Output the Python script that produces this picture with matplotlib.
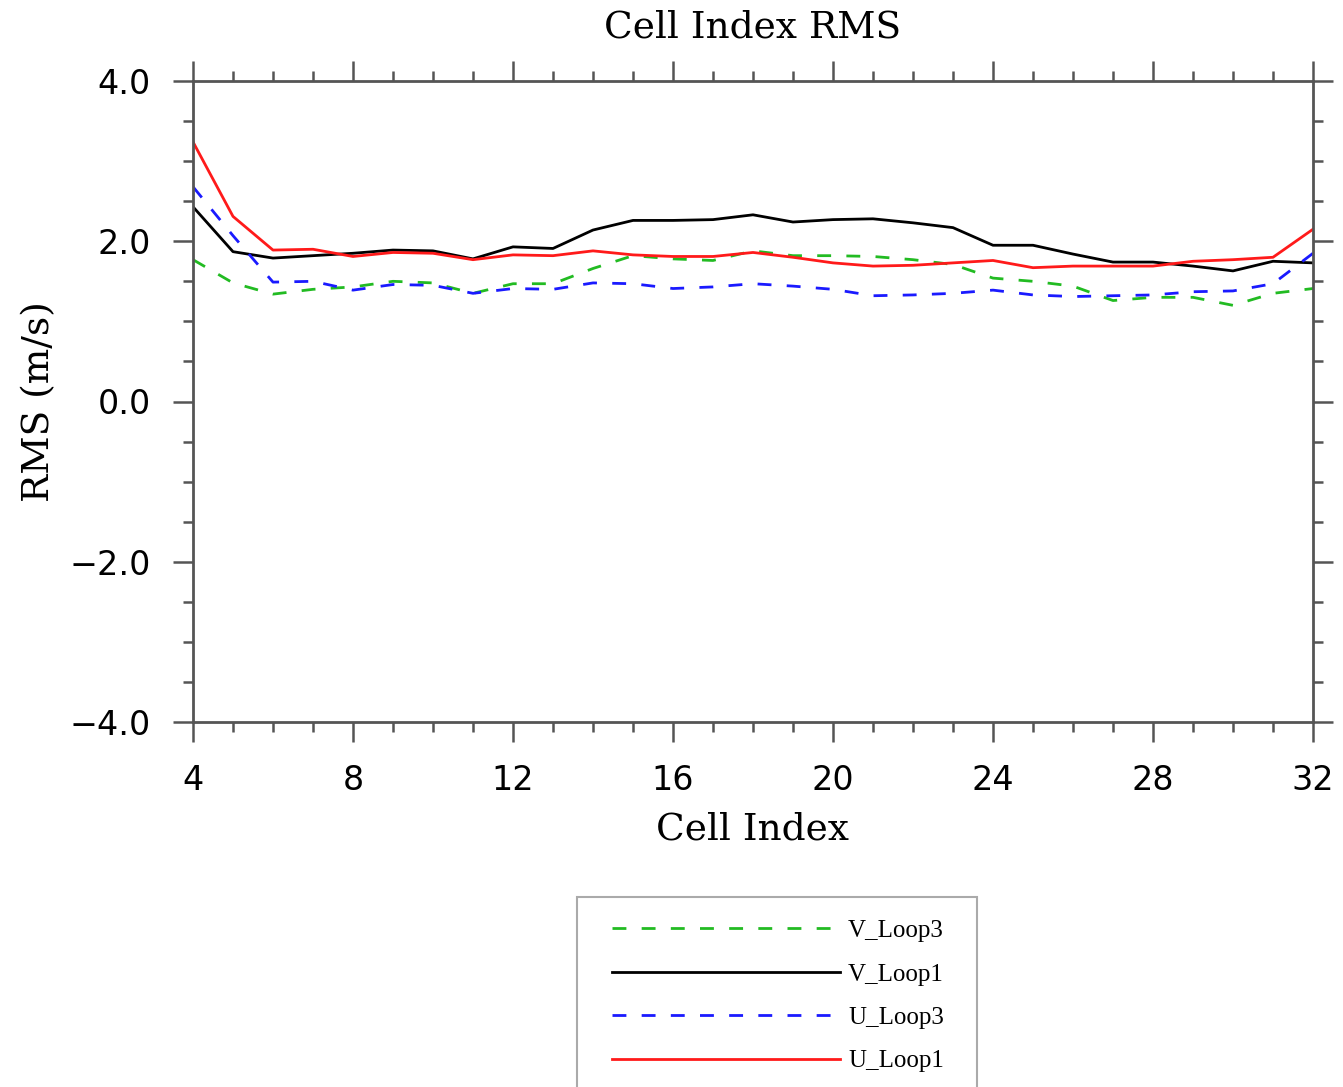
import matplotlib
matplotlib.use("Agg")
import matplotlib.pyplot as plt
from matplotlib.ticker import MultipleLocator, FuncFormatter
from matplotlib.patches import Rectangle

plt.rcParams['lines.scale_dashes'] = False

cell_index = list(range(4, 33))
v_loop3 = [1.77, 1.48, 1.34, 1.40, 1.43, 1.50, 1.48, 1.35, 1.47, 1.47, 1.66, 1.82, 1.78, 1.76, 1.88,
           1.82, 1.82, 1.81, 1.77, 1.71, 1.54, 1.50, 1.44, 1.26, 1.30, 1.30, 1.20, 1.35, 1.41]
v_loop1 = [2.43, 1.87, 1.79, 1.82, 1.85, 1.89, 1.88, 1.78, 1.93, 1.91, 2.14, 2.26, 2.26, 2.27, 2.33,
           2.24, 2.27, 2.28, 2.23, 2.17, 1.95, 1.95, 1.84, 1.74, 1.74, 1.69, 1.63, 1.75, 1.73]
u_loop3 = [2.68, 2.07, 1.49, 1.50, 1.39, 1.46, 1.45, 1.35, 1.41, 1.40, 1.48, 1.47, 1.41, 1.43, 1.47,
           1.44, 1.40, 1.32, 1.33, 1.35, 1.39, 1.33, 1.31, 1.32, 1.33, 1.37, 1.38, 1.47, 1.85]
u_loop1 = [3.24, 2.31, 1.89, 1.90, 1.81, 1.86, 1.85, 1.77, 1.83, 1.82, 1.88, 1.83, 1.81, 1.81, 1.86,
           1.80, 1.73, 1.69, 1.70, 1.73, 1.76, 1.67, 1.69, 1.69, 1.69, 1.75, 1.77, 1.80, 2.15]

series_labels = ["V_Loop3", "V_Loop1", "U_Loop3", "U_Loop1"]
x_ticks = [4, 8, 12, 16, 20, 24, 28, 32]
y_ticks = [-4.0, -2.0, 0.0, 2.0, 4.0]

W, H = 1343, 1087
fig = plt.figure(figsize=(W / 100, H / 100), dpi=100)
ax = fig.add_axes([193 / W, 1 - 722 / H, (1313 - 193) / W, (722 - 81) / H])

lw = 2.0
ax.plot(cell_index, v_loop3, color='#22bb22', lw=lw, dashes=(10, 11), label=series_labels[0])
ax.plot(cell_index, v_loop1, color='black', lw=lw, label=series_labels[1])
ax.plot(cell_index, u_loop3, color='#1a1aff', lw=lw, dashes=(10, 11), label=series_labels[2])
ax.plot(cell_index, u_loop1, color='#ff1a1a', lw=lw, label=series_labels[3])

ax.set_xlim(4, 32)
ax.set_ylim(-4, 4)
ax.set_xticks(x_ticks)
ax.set_yticks(y_ticks)
ax.xaxis.set_minor_locator(MultipleLocator(1))
ax.yaxis.set_minor_locator(MultipleLocator(0.5))
ax.yaxis.set_major_formatter(FuncFormatter(lambda v, p: ("%.1f" % v).replace('-', '\u2212')))

axis_col = '#555555'
for s in ax.spines.values():
    s.set_color(axis_col)
    s.set_linewidth(2.0)
ax.tick_params(which='both', direction='out', top=True, right=True, color=axis_col, width=1.8)
ax.tick_params(which='major', length=14.5, pad=16, labelsize=24)
ax.tick_params(which='minor', length=7.2)
ax.tick_params(labeltop=False, labelright=False)

ax.set_title("Cell Index RMS", family='DejaVu Serif', fontsize=27, pad=31)
ax.set_xlabel("Cell Index", family='DejaVu Serif', fontsize=27, labelpad=10)
ax.set_ylabel("RMS (m/s)", family='DejaVu Serif', fontsize=27, labelpad=9)

# legend frame (extends below the figure edge, as in the reference)
frame = Rectangle((577 / W, -0.05), (977 - 577) / W, (1 - 897 / H) + 0.05,
                  transform=fig.transFigure, facecolor='white', edgecolor='#aaaaaa',
                  linewidth=1.5, zorder=1)
fig.patches.append(frame)

leg = fig.legend(loc='upper left', bbox_to_anchor=(612 / W, 1 - 919.5 / H),
                 borderaxespad=0, prop={'family': 'Liberation Serif', 'size': 18},
                 handlelength=9.12, handletextpad=0.32, labelspacing=0.84, borderpad=0,
                 frameon=False)
leg.set_zorder(2)

fig.savefig("out.png", dpi=100)
